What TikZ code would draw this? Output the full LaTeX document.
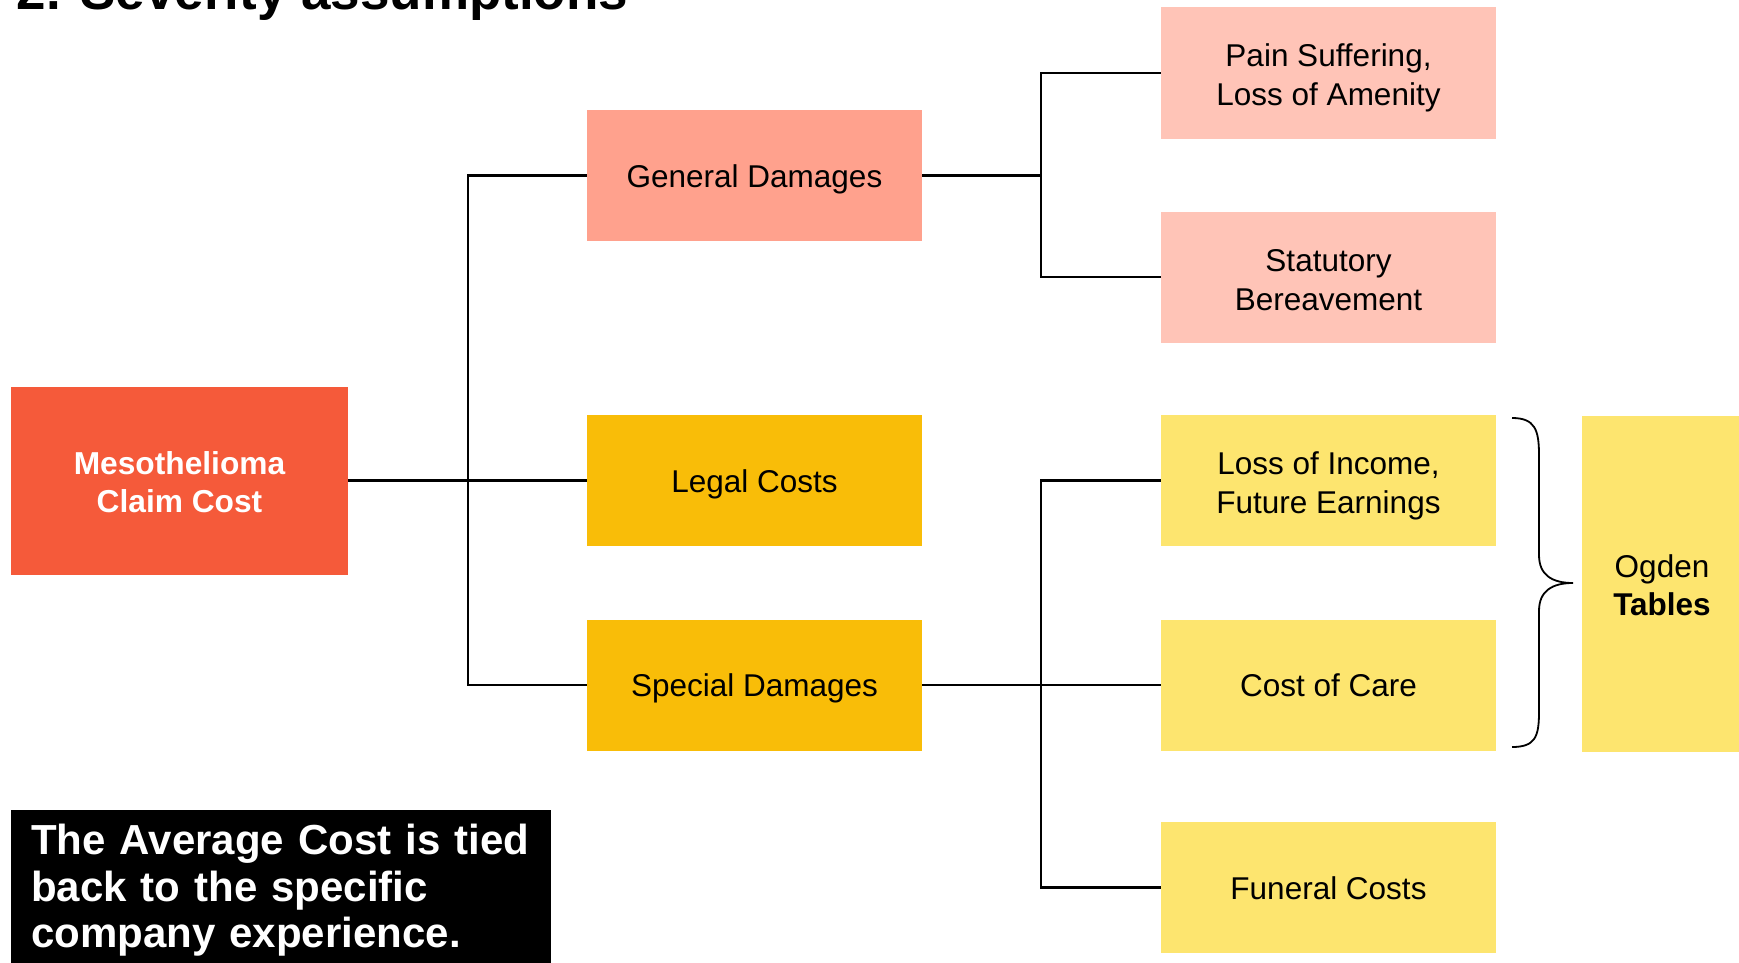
\documentclass[tikz,border=0pt]{standalone}
\usepackage{fontspec}
\setmainfont{Liberation Sans}
\definecolor{mesored}{HTML}{F55A3A}
\definecolor{salmon}{HTML}{FFA18D}
\definecolor{palesalmon}{HTML}{FFC4B7}
\definecolor{amber}{HTML}{F9BD08}
\definecolor{paleyellow}{HTML}{FDE56F}
\begin{document}
\begin{tikzpicture}[x=1pt,y=-1pt,
    box/.style={minimum width=335pt,minimum height=131pt,inner sep=0pt,align=center,
      text height=29pt,text depth=6pt,font=\fontsize{31.5}{39}\selectfont},
    twoline/.style={text height=72pt},
    link/.style={line width=2.2pt,black}]
      \useasboundingbox (0,0) rectangle (1739,963);
      \node[anchor=base west,font=\fontsize{53}{60}\selectfont\bfseries] (title) at (13,10) {2. Severity assumptions};
      \node[box,fill=mesored,text=white,minimum width=337pt,minimum height=188pt,
        text height=70.4pt,font=\fontsize{31.7}{38.5}\selectfont\bfseries] (meso) at (179.5,480.5) {Mesothelioma\\Claim Cost};
      \node[box,fill=salmon] (general) at (754.5,175.5) {General Damages};
      \node[box,fill=amber] (legal) at (754.5,480.5) {Legal Costs};
      \node[box,fill=amber] (special) at (754.5,685) {Special Damages};
      \node[box,twoline,fill=palesalmon] (pain) at (1328.5,73) {Pain Suffering,\\Loss of Amenity};
      \node[box,twoline,fill=palesalmon] (statutory) at (1328.5,277) {Statutory\\Bereavement};
      \node[box,twoline,fill=paleyellow] (income) at (1328.5,480.5) {Loss of Income,\\Future Earnings};
      \node[box,fill=paleyellow] (care) at (1328.5,685) {Cost of Care};
      \node[box,fill=paleyellow] (funeral) at (1328.5,887.5) {Funeral Costs};
      \node[box,fill=paleyellow,minimum width=160pt,minimum height=336pt,text height=69.5pt,
        font=\fontsize{31.5}{38}\selectfont] (ogden) at (1662,584) {Ogden\\\textbf{Tables}};
      \node[anchor=north west,fill=black,text=white,minimum width=540pt,
        text width=500pt,inner xsep=20pt,inner ysep=14pt,align=left,
        font=\fontsize{42}{46.6}\selectfont\bfseries] (note) at (11,810)
        {The Average Cost is tied\\back to the specific\\company experience.};
      \coordinate (split1) at (468,480.5);
      \coordinate (split2) at (1041,175.5);
      \coordinate (split3) at (1041,685);
      \begin{scope}[link]
        \draw (meso) -- (legal);
        \draw (general) -| (split1) |- (special);
        \draw (general) -- (split2);
        \draw (pain) -| (split2) |- (statutory);
        \draw (special) -- (care);
        \draw (income) -| (split3) |- (funeral);
      \end{scope}
      \draw[line width=1.8pt] (1512,418) .. controls (1535,418) and (1539,430) .. (1539,455)
        -- (1539,555) .. controls (1539,575) and (1552,583) .. (1573,583)
        .. controls (1552,583) and (1539,591) .. (1539,611)
        -- (1539,712) .. controls (1539,737) and (1535,747) .. (1512,747);
    \end{tikzpicture}
\end{document}
